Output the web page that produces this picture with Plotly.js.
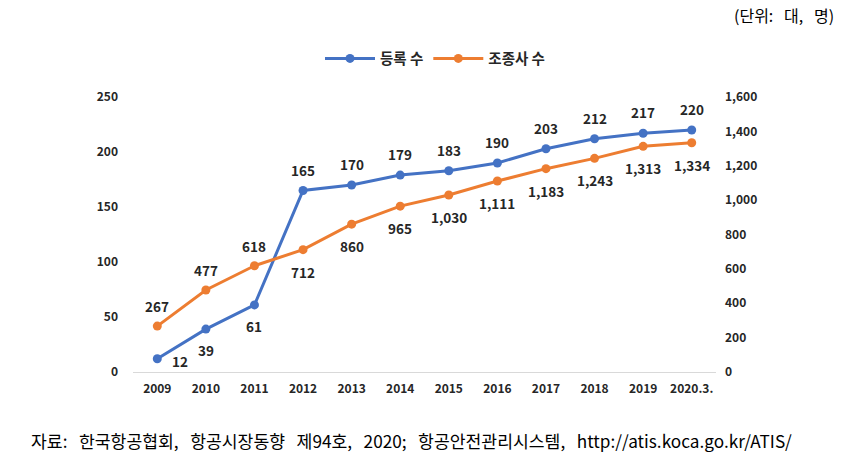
<!DOCTYPE html>
<html>
<head>
<meta charset="utf-8">
<script src="https://cdn.plot.ly/plotly-3.0.1.min.js"></script>
<style>html,body{margin:0;padding:0;background:#fff;}#chart{width:852px;height:456px;}</style>
</head>
<body>
<div id="chart"></div>
<script>
const years = ['2009','2010','2011','2012','2013','2014','2015','2016','2017','2018','2019','2020.3.'];
const registered = [12, 39, 61, 165, 170, 179, 183, 190, 203, 212, 217, 220];
const pilots = [267, 477, 618, 712, 860, 965, 1030, 1111, 1183, 1243, 1313, 1334];
const registeredName = '등록 수';
const pilotsName = '조종사 수';
const unitText = '(단위:&nbsp;&nbsp; 대,&nbsp;&nbsp; 명)';
const sourceText = '자료:&nbsp;&nbsp; 한국항공협회,&nbsp;&nbsp; 항공시장동향&nbsp;&nbsp; 제94호,&nbsp;&nbsp; 2020;&nbsp;&nbsp; 항공안전관리시스템,&nbsp;&nbsp; http://atis.koca.go.kr/ATIS/';

const font = "'Noto Sans CJK KR', 'Noto Sans', sans-serif";
const labelFont = {family: font, size: 13.5, color: '#262626', weight: 700};
const tickFont = {family: font, size: 12, weight: 700, color: '#262626'};

const traces = [
  {
    x: years, y: registered, name: registeredName, type: 'scatter', mode: 'lines+markers',
    line: {color: '#4472C4', width: 3}, marker: {color: '#4472C4', size: 9},
    yaxis: 'y', cliponaxis: false
  },
  {
    x: years, y: pilots, name: pilotsName, type: 'scatter', mode: 'lines+markers',
    line: {color: '#ED7D31', width: 3}, marker: {color: '#ED7D31', size: 9},
    yaxis: 'y2', cliponaxis: false
  }
];

// data labels (x given as category index of years)
const annotations = [];
registered.forEach((v, i) => {
  const below = i < 3;
  annotations.push({
    x: i, y: v, xref: 'x', yref: 'y', showarrow: false,
    text: v.toLocaleString('en-US'), font: labelFont,
    xshift: i === 0 ? 23 : 0, yshift: i === 0 ? -2 : (below ? -21 : 21)
  });
});
pilots.forEach((v, i) => {
  const above = i < 3;
  annotations.push({
    x: i, y: v, xref: 'x', yref: 'y2', showarrow: false,
    text: v.toLocaleString('en-US'), font: labelFont,
    yshift: above ? 20 : -22
  });
});
annotations.push(
  {text: unitText, xref: 'paper', yref: 'paper', x: 1.0, xanchor: 'right',
   xshift: 120, y: 1.0, yshift: 82, yanchor: 'middle', showarrow: false,
   font: {family: font, size: 16, color: '#000'}},
  {text: sourceText, xref: 'paper', yref: 'paper', x: 0, xanchor: 'left', xshift: -104,
   y: 0, yshift: -68, yanchor: 'middle', showarrow: false,
   font: {family: font, size: 17.2, color: '#000'}}
);

const layout = {
  width: 852, height: 456,
  margin: {l: 133, r: 136, t: 97, b: 84},
  paper_bgcolor: '#fff', plot_bgcolor: '#fff',
  font: {family: font, color: '#262626'},
  showlegend: true,
  legend: {orientation: 'h', x: 0.518, xanchor: 'center', y: 1.14, yanchor: 'middle',
           font: {family: font, size: 14.5, weight: 700, color: '#262626'}, itemwidth: 50},
  xaxis: {
    type: 'category', range: [-0.5, years.length - 0.5], autorange: false,
    showgrid: false, zeroline: false,
    showline: true, linecolor: '#d9d9d9', linewidth: 1,
    ticks: '', tickfont: tickFont, ticklabelstandoff: 6
  },
  yaxis: {
    range: [0, 250], dtick: 50, showgrid: false, zeroline: false, showline: false,
    ticks: '', tickfont: tickFont, ticklabelstandoff: 14
  },
  yaxis2: {
    range: [0, 1600], dtick: 200, overlaying: 'y', side: 'right',
    showgrid: false, zeroline: false, showline: false, ticks: '',
    tickformat: ',d', tickfont: tickFont, ticklabelstandoff: 8
  },
  annotations: annotations
};

Plotly.newPlot('chart', traces, layout, {displayModeBar: false, staticPlot: true});
</script>
</body>
</html>
